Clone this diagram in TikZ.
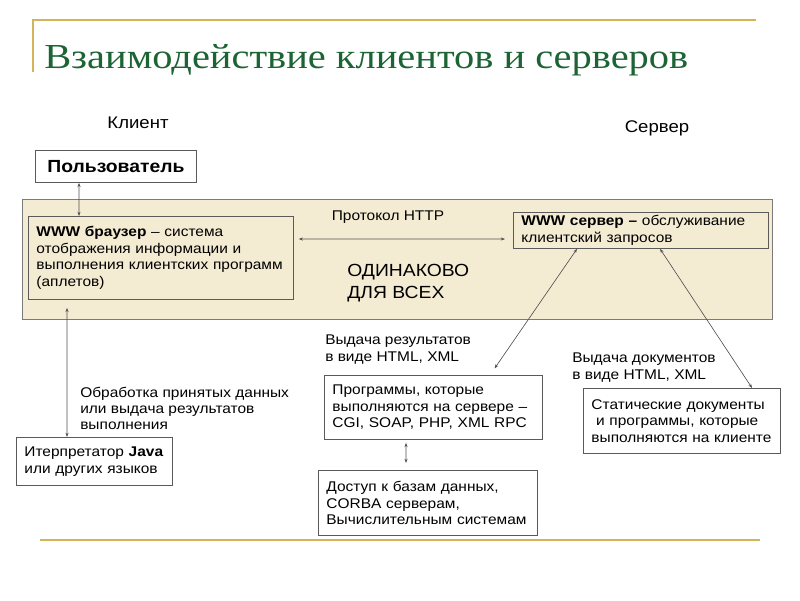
\documentclass[tikz,border=0pt]{standalone}
\usepackage{fontspec}
\setmainfont{Liberation Sans}[FakeStretch=1.1]
\newfontfamily\titulofonte{Liberation Serif}[FakeStretch=1.15]
\usepackage{tikz}
\usetikzlibrary{positioning,arrows.meta}

\definecolor{ouro}{RGB}{212,180,90}
\definecolor{verde}{RGB}{28,100,52}
\definecolor{bege}{RGB}{244,235,211}
\definecolor{borda}{RGB}{90,90,90}
\definecolor{traco}{RGB}{80,80,80}

\begin{document}
\begin{tikzpicture}[
  x=0.025cm, y=-0.025cm,
  font=\fontsize{10}{11.8}\selectfont,
  caixa/.style={draw=borda, line width=0.6pt, align=left, anchor=north west,
                inner xsep=0.2cm, inner ysep=2pt},
  rotulo/.style={align=left, anchor=north west, inner sep=0pt,
                 font=\fontsize{10}{11.5}\selectfont},
  faixa/.style={draw=borda!80, fill=bege, line width=0.6pt, anchor=north west},
  seta/.style={<->, >={Stealth[length=3pt,width=2.2pt]}, draw=traco, line width=0.45pt},
  filete/.style={draw=ouro, line width=1.1pt},
]
\useasboundingbox (0,0) rectangle (800,600);

% ---- Moldura e titulo -----------------------------------------------------
\draw[filete] (33,72) -- (33,20) -- (756,20);
\draw[filete] (40,540) -- (760,540);
\node[anchor=base west, inner sep=0pt, text=verde,
      font=\titulofonte\fontsize{25}{30}\selectfont] (titulo) at (44,68)
      {Взаимодействие клиентов и серверов};

% ---- Cliente / servidor -----------------------------------------------------
\node[font=\fontsize{12}{14}\selectfont] (cliente) at (138,123) {Клиент};
\node[font=\fontsize{12}{14}\selectfont] (servidor) at (657,128) {Сервер};
\node[caixa, align=center, minimum width=4.025cm, minimum height=0.8cm,
      font=\bfseries\fontsize{12.5}{14}\selectfont] (usuario) at (35,150) {Пользователь};

% ---- Faixa comum ------------------------------------------------------------
\node[faixa, minimum width=18.75cm, minimum height=3cm] (faixa) at (22,199) {};
\node[caixa, text width=6.225cm, minimum height=2.075cm] (browser) at (28,216)
      {\textbf{WWW браузер} – система\\отображения информации и\\выполнения клиентских программ\\(аплетов)};
\node[caixa, text width=5.975cm, minimum height=0.9cm] (www) at (513,212)
      {\textbf{WWW сервер –} обслуживание\\клиентский запросов};
\node (http) at (388,217) {Протокол HTTP};
\node[rotulo, font=\fontsize{12.5}{15.6}\selectfont] (igual) at (347,264)
      {ОДИНАКОВО\\ДЛЯ ВСЕХ};

% ---- Parte de baixo ---------------------------------------------------------
\node[caixa, text width=3.5cm, minimum height=1.2cm] (interp) at (16,437)
      {Итерпретатор \textbf{Java}\\или других языков};
\node[caixa, text width=5.05cm, minimum height=1.6cm] (progs) at (324,375)
      {Программы, которые\\выполняются на сервере –\\CGI, SOAP, PHP, XML RPC};
\node[caixa, text width=4.525cm, minimum height=1.625cm] (estat) at (583,388)
      {Статические документы\\\ и программы, которые\\выполняются на клиенте};
\node[caixa, text width=5.075cm, minimum height=1.625cm] (banco) at (318,470)
      {Доступ к базам данных,\\CORBA серверам,\\Вычислительным системам};

\node[rotulo] (proc) at (80,387)
      {Обработка принятых данных\\или выдача результатов\\выполнения};
\node[rotulo] (result) at (325,335) {Выдача результатов\\в виде HTML, XML};
\node[rotulo] (docs) at (572,353) {Выдача документов\\в виде HTML, XML};

% ---- Arestas ----------------------------------------------------------------
\draw[seta] ([xshift=1.1cm]usuario.south west) -- ([xshift=1.275cm]browser.north west);
\draw[seta, shorten <=0.2cm] ([xshift=0.975cm]browser.south west)
      -- ([xshift=1.275cm]interp.north west);
\draw[seta, shorten <=0.12cm, shorten >=0.2cm] ([yshift=-0.575cm]browser.north east)
      -- ([yshift=-0.675cm]www.north west);
\draw[seta, shorten >=0.2cm] ([xshift=1.6cm]www.south west)
      -- ([xshift=4.15cm]progs.north west);
\draw[seta] ([xshift=3.675cm]www.south west) -- ([xshift=4.225cm]estat.north west);
\draw[seta, shorten <=0.075cm, shorten >=0.175cm] ([xshift=2.05cm]progs.south west)
      -- ([xshift=2.2cm]banco.north west);

\end{tikzpicture}
\end{document}
